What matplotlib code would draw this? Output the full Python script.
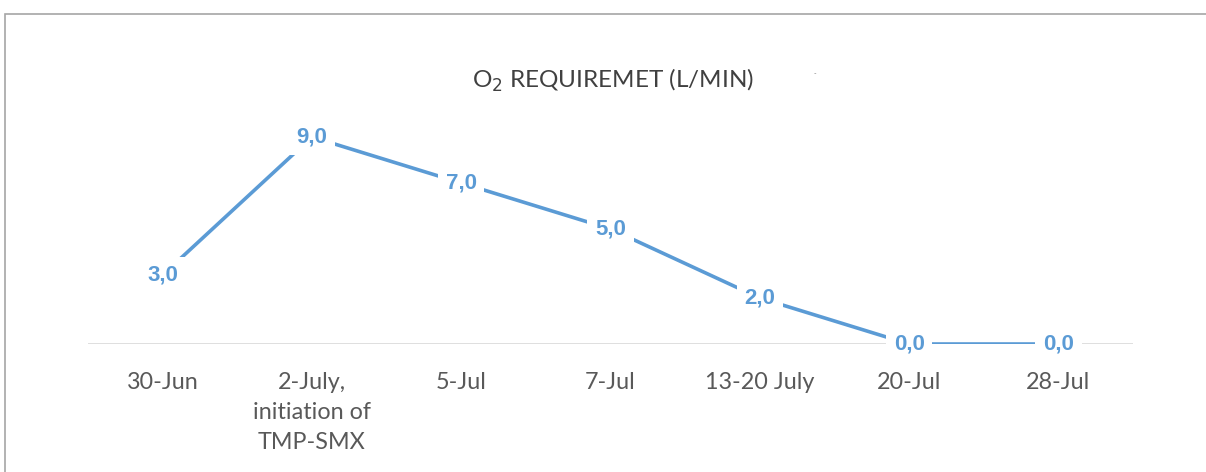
import matplotlib.pyplot as plt
from matplotlib.patches import Rectangle

categories = ["30-Jun", "2-July,\ninitiation of\nTMP-SMX", "5-Jul", "7-Jul",
              "13-20 July", "20-Jul", "28-Jul"]
o2 = [3.0, 9.0, 7.0, 5.0, 2.0, 0.0, 0.0]
labels = ["3,0", "9,0", "7,0", "5,0", "2,0", "0,0", "0,0"]

blue = "#5B9BD5"
grey = "#595959"
plt.rcParams['font.family'] = ['Lato', 'DejaVu Sans']

fig = plt.figure(figsize=(12.06, 4.72), dpi=100)
# chart frame (cut off at right and bottom)
fig.patches.append(Rectangle((5 / 1206, -0.1), 1.1, (472 - 14) / 472 + 0.1,
                             transform=fig.transFigure, fill=False,
                             edgecolor="#a6a6a6", linewidth=1.2))

ax = fig.add_axes([88 / 1206, (472 - 344) / 472, (1133 - 88) / 1206, 230 / 472])
x = list(range(len(categories)))
ax.plot(x, o2, color=blue, linewidth=2.6, solid_capstyle='butt', zorder=2)
for xi, yi, lab in zip(x, o2, labels):
    ax.text(xi, yi, lab, ha='center', va='center', color=blue, fontsize=16,
            fontweight='bold', family=['Liberation Sans', 'DejaVu Sans'], zorder=3,
            bbox=dict(boxstyle='square,pad=0.35', fc='white', ec='none'))

ax.set_xlim(-0.5, len(categories) - 0.5)
ax.set_ylim(0, 10)
ax.axhline(0, color="#d9d9d9", linewidth=1.2, zorder=1)
for s in ax.spines.values():
    s.set_visible(False)
ax.set_yticks([])
ax.set_xticks(x)
ax.set_xticklabels(categories, color=grey, fontsize=16.8, linespacing=1.55)
ax.tick_params(axis='x', length=0, pad=20)
ax.patch.set_alpha(0)

fig.text(613 / 1206, (472 - 80) / 472, r"O$_2$ REQUIREMET (L/MIN)", ha='center',
         va='center', color="#404040", fontsize=17.5)
fig.text(815 / 1206, (472 - 74) / 472, "-", ha='center', va='center',
         color="#808080", fontsize=5)

fig.savefig("out.png", dpi=100)
